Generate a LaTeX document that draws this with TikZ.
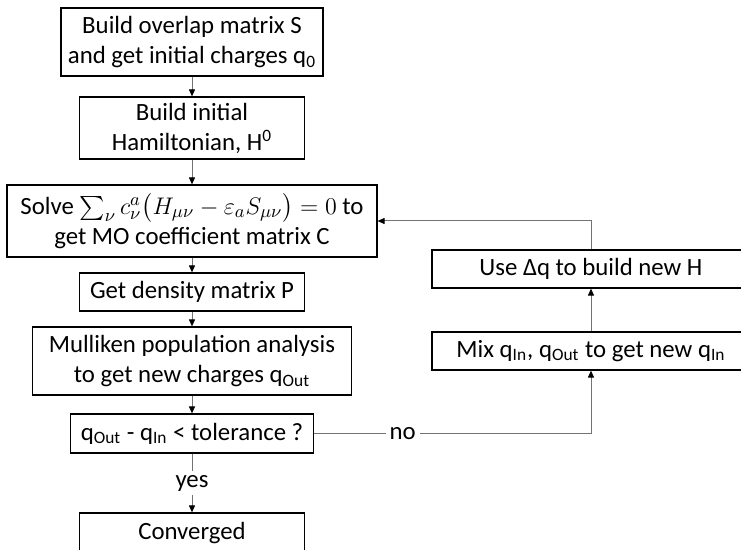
\documentclass[tikz,border=0pt]{standalone}
\usepackage{amsmath}
\usepackage{fontspec}
\setmainfont{Carlito}
\usetikzlibrary{arrows.meta}

\begin{document}
\begin{tikzpicture}[x=0.5pt, y=-0.5pt,
  box/.style={draw, line width=0.6pt, align=center, inner sep=1pt,
    font=\fontsize{12.4}{15}\selectfont},
  link/.style={draw=black!55, line width=0.5pt,
    -{Triangle[length=3.5pt, width=3pt, color=black]}},
  lbl/.style={fill=white, inner sep=2pt, font=\fontsize{12.4}{15}\selectfont}]
  \path[use as bounding box, clip] (0,0) rectangle (741,550);
  % main column
  \node[box, minimum width=131pt, minimum height=34pt] (overlap) at (192,42)
    {Build overlap matrix S\\and get initial charges q\textsubscript{0}};
  \node[box, minimum width=112.5pt, minimum height=31pt] (ham) at (192,128)
    {Build initial\\Hamiltonian, H\textsuperscript{0}};
  \node[box, minimum width=185pt, minimum height=36pt] (solve) at (192,221)
    {Solve $\sum_\nu c_\nu^a\bigl(H_{\mu\nu}-\varepsilon_a S_{\mu\nu}\bigr)=0$ to\\get MO coefficient matrix C};
  \node[box, minimum width=112.5pt, minimum height=19pt] (dens) at (192,292)
    {Get density matrix P};
  \node[box, minimum width=159.5pt, minimum height=34pt] (mull) at (192,361)
    {Mulliken population analysis\\to get new charges q\textsubscript{Out}};
  \node[box, minimum width=121.5pt, minimum height=19.5pt] (tol) at (192,433.5)
    {q\textsubscript{Out} - q\textsubscript{In} < tolerance ?};
  \node[box, minimum width=112.5pt, minimum height=20pt] (conv) at (192,533)
    {Converged};
  % loop back
  \node[box, minimum width=159pt, minimum height=19pt] (newh) at (591,269)
    {Use Δq to build new H};
  \node[box, minimum width=159pt, minimum height=19pt] (mix) at (591,351)
    {Mix q\textsubscript{In}, q\textsubscript{Out} to get new q\textsubscript{In}};

  \draw[link] (overlap) -- (ham);
  \draw[link] (ham) -- (solve);
  \draw[link] (solve) -- (dens);
  \draw[link] (dens) -- (mull);
  \draw[link] (mull) -- (tol);
  \draw[link] (tol) -- node[lbl] {yes} (conv);
  \draw[link] (tol.east) -| node[lbl, pos=0.16] {no} (mix.south);
  \draw[link] (mix) -- (newh);
  \draw[link] (newh.north) |- (solve.east);
\end{tikzpicture}
\end{document}
